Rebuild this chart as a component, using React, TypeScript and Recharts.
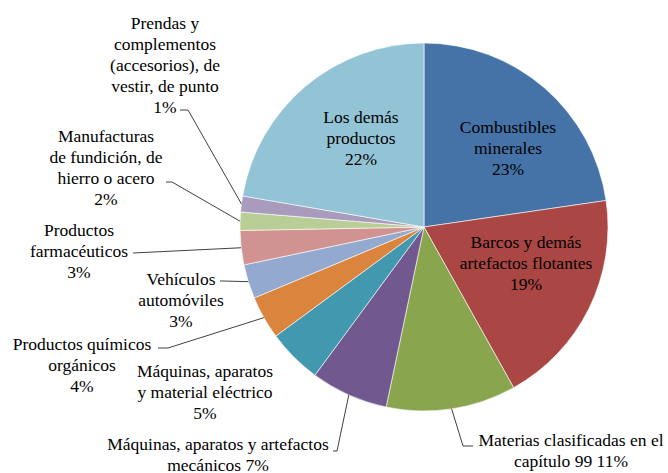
import { PieChart, Pie, Cell } from 'recharts'

// clockwise from 12 o'clock
const categories = [
  'Combustibles minerales',
  'Barcos y demás artefactos flotantes',
  'Materias clasificadas en el capítulo 99',
  'Máquinas, aparatos y artefactos mecánicos',
  'Máquinas, aparatos y material eléctrico',
  'Productos químicos orgánicos',
  'Vehículos automóviles',
  'Productos farmacéuticos',
  'Manufacturas de fundición, de hierro o acero',
  'Prendas y complementos (accesorios), de vestir, de punto',
  'Los demás productos',
]
const shares = [22.7, 19.2, 11.4, 6.8, 4.8, 3.8, 3.0, 3.0, 1.6, 1.4, 22.3]

// label text lines, {p} is replaced by the rounded share
const labelLines = [
  ['Combustibles', 'minerales', '{p}'],
  ['Barcos y demás', 'artefactos flotantes', '{p}'],
  ['Materias clasificadas en el', 'capítulo 99 {p}'],
  ['Máquinas, aparatos y artefactos', 'mecánicos {p}'],
  ['Máquinas, aparatos', 'y material eléctrico', '{p}'],
  ['Productos químicos', 'orgánicos', '{p}'],
  ['Vehículos', 'automóviles', '{p}'],
  ['Productos', 'farmacéuticos', '{p}'],
  ['Manufacturas', 'de fundición, de', 'hierro o acero', '{p}'],
  ['Prendas y', 'complementos', '(accesorios), de', 'vestir, de punto', '{p}'],
  ['Los demás', 'productos', '{p}'],
]

const COLORS = [
  '#4572A7', '#AA4643', '#89A54E', '#71588F', '#4198AF', '#DB843D',
  '#93A9CF', '#D19392', '#B9CD96', '#A99BBD', '#93C4D6',
]

// label placement: text centre x, first baseline y, leader points before it reaches the slice
const LABEL_POS: { x: number; y: number; leader?: [number, number][] }[] = [
  { x: 508, y: 133 },
  { x: 526, y: 247.5 },
  { x: 571, y: 446, leader: [[473, 446], [463, 446]] },
  { x: 218, y: 450, leader: [[333, 451], [337, 451]] },
  { x: 205, y: 376.5 },
  { x: 82, y: 349.5, leader: [[158, 348], [168, 348]] },
  { x: 181, y: 284.5, leader: [[220, 281], [223, 281]] },
  { x: 79, y: 235.5, leader: [[133, 253]] },
  { x: 106, y: 141.5, leader: [[166, 182], [172, 182]] },
  { x: 165, y: 28.5, leader: [[180, 110], [188, 110]] },
  { x: 361, y: 123 },
]

const data = categories.map((name, i) => ({ name, value: shares[i] }))

const RAD = Math.PI / 180
const LINE_H = 21

function renderLabel(props: any) {
  const { cx, cy, midAngle, outerRadius, index } = props
  const pos = LABEL_POS[index]
  const pct = Math.round(shares[index]) + '%'
  const lines = labelLines[index].map((l) => l.replace('{p}', pct))
  let leader = null
  if (pos.leader) {
    const ex = cx + outerRadius * Math.cos(-midAngle * RAD)
    const ey = cy + outerRadius * Math.sin(-midAngle * RAD)
    const pts = [...pos.leader, [ex, ey]].map((p) => p.join(',')).join(' ')
    leader = <polyline points={pts} fill="none" stroke="#404040" strokeWidth={1} />
  }
  return (
    <g>
      {leader}
      {lines.map((l, j) => (
        <text
          key={j}
          x={pos.x}
          y={pos.y + j * LINE_H}
          textAnchor="middle"
          fill="#000"
          fontFamily="Liberation Serif"
          fontSize={17.5}
        >
          {l}
        </text>
      ))}
    </g>
  )
}

export default function App() {
  return (
    <div style={{ position: 'absolute', left: 0, top: 0, background: '#fff', width: 668, height: 473 }}>
      <PieChart width={668} height={473} margin={{ top: 0, right: 0, bottom: 0, left: 0 }}>
        <Pie
          data={data}
          dataKey="value"
          nameKey="name"
          cx={424}
          cy={227}
          outerRadius={184}
          startAngle={90}
          endAngle={-270}
          stroke="#fff"
          strokeWidth={0.6}
          label={renderLabel}
          labelLine={false}
          isAnimationActive={false}
        >
          {data.map((_, i) => (
            <Cell key={i} fill={COLORS[i]} />
          ))}
        </Pie>
      </PieChart>
    </div>
  )
}
